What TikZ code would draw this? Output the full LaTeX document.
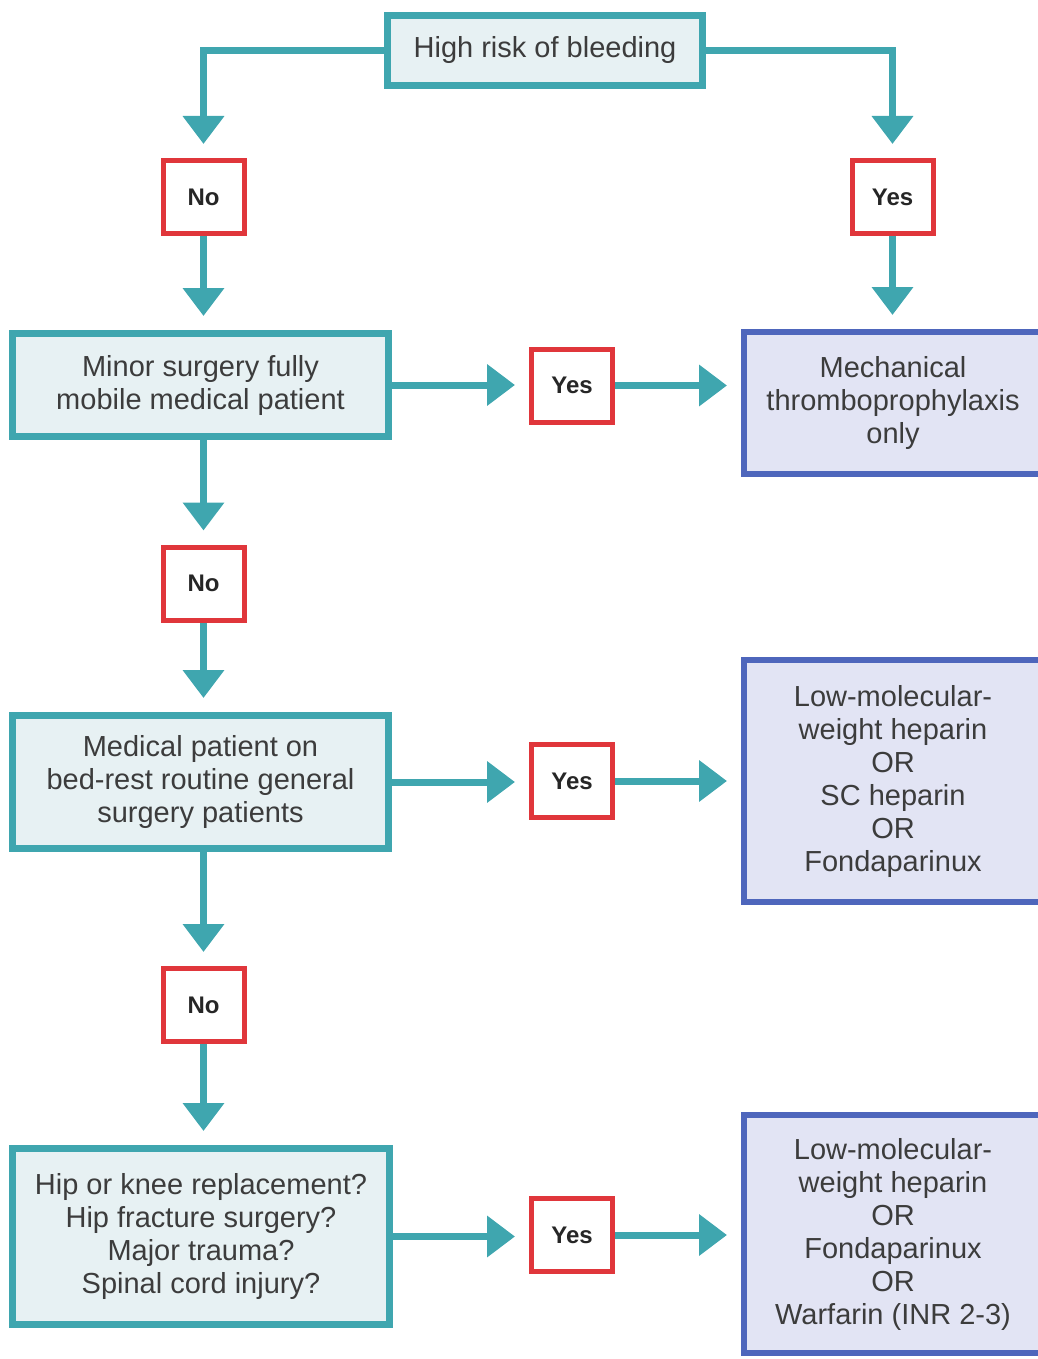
\documentclass[tikz,border=0pt]{standalone}
\usepackage{fontspec}
\setmainfont{Liberation Sans}
\usetikzlibrary{arrows.meta,backgrounds}

\definecolor{tealline}{HTML}{3FA6AF}
\definecolor{tealfill}{HTML}{E7F1F3}
\definecolor{redline}{HTML}{E0363B}
\definecolor{blueline}{HTML}{4E66BC}
\definecolor{bluefill}{HTML}{E2E4F4}
\definecolor{textgray}{HTML}{3C3C3C}

\tikzset{
  question/.style={draw=tealline, fill=tealfill, line width=7pt, align=center,
    inner sep=0pt, text=textgray, font=\fontsize{29}{33}\selectfont},
  answer/.style={draw=redline, fill=white, line width=5pt, inner sep=0pt,
    minimum width=81pt, minimum height=73pt, text=black!85,
    font=\fontsize{24}{28}\selectfont\bfseries},
  therapy/.style={draw=blueline, fill=bluefill, line width=6pt, align=center,
    inner sep=0pt, minimum width=298pt, text=textgray,
    font=\fontsize{29}{33}\selectfont},
  flow/.style={draw=tealline, line width=7pt,
    -{Triangle[length=28pt,width=40pt]}, shorten >=14pt},
}

\begin{document}
\begin{tikzpicture}[x=1pt,y=-1pt]
  \useasboundingbox (0,0) rectangle (1037,1359);

  % decision boxes
  \node[question, minimum width=315pt, minimum height=70pt] (bleed) at (545,50.5)
    {High risk of bleeding};
  \node[question, minimum width=376pt, minimum height=103pt] (minor) at (200.5,385)
    {Minor surgery fully\\mobile medical patient};
  \node[question, minimum width=376pt, minimum height=133pt] (medical) at (200.5,782)
    {Medical patient on\\bed-rest routine general\\surgery patients};
  \node[question, minimum width=377pt, minimum height=176pt] (hip) at (201,1236.5)
    {Hip or knee replacement?\\Hip fracture surgery?\\Major trauma?\\Spinal cord injury?};

  % yes / no answers
  \node[answer] (noA) at (203.5,197) {No};
  \node[answer] (noB) at (203.5,583.5) {No};
  \node[answer] (noC) at (203.5,1005) {No};
  \node[answer] (yesTop) at (892.5,197) {Yes};
  \node[answer] (yesA) at (572,385.5) {Yes};
  \node[answer] (yesB) at (572,781) {Yes};
  \node[answer] (yesC) at (572,1235) {Yes};

  % recommended prophylaxis (boxes run off the right edge)
  \node[therapy, minimum height=142pt] (mech) at (893,403)
    {Mechanical\\thromboprophylaxis\\only};
  \node[therapy, minimum height=242pt] (lmwhA) at (893,781)
    {Low-molecular-\\weight heparin\\OR\\SC heparin\\OR\\Fondaparinux};
  \node[therapy, minimum height=238pt] (lmwhB) at (893,1234)
    {Low-molecular-\\weight heparin\\OR\\Fondaparinux\\OR\\Warfarin (INR 2-3)};

  % connectors
  \begin{scope}[on background layer]
    \draw[flow] (bleed.west) -| (noA.north);
    \draw[flow] (bleed.east) -| (yesTop.north);
    \draw[flow] (noA.south) -- (noA.south |- minor.north);
    \draw[flow] (yesTop.south) -- (yesTop.south |- mech.north);
    \draw[flow] (minor.east) -- (minor.east -| yesA.west);
    \draw[flow] (yesA.east) -- (yesA.east -| mech.west);
    \draw[flow] (noA.south |- minor.south) -- (noB.north);
    \draw[flow] (noB.south) -- (noB.south |- medical.north);
    \draw[flow] (medical.east) -- (medical.east -| yesB.west);
    \draw[flow] (yesB.east) -- (yesB.east -| lmwhA.west);
    \draw[flow] (noB.south |- medical.south) -- (noC.north);
    \draw[flow] (noC.south) -- (noC.south |- hip.north);
    \draw[flow] (hip.east) -- (hip.east -| yesC.west);
    \draw[flow] (yesC.east) -- (yesC.east -| lmwhB.west);
  \end{scope}
\end{tikzpicture}
\end{document}
